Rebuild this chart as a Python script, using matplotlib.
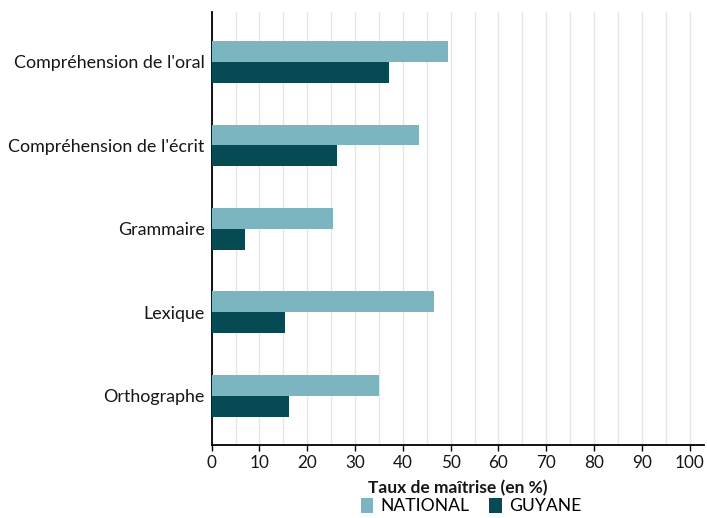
import matplotlib.pyplot as plt
import numpy as np

plt.rcParams['font.family'] = ['Lato', 'DejaVu Sans']

# taux de maîtrise par domaine (%)
domaines = ["Compréhension de l'oral", "Compréhension de l'écrit",
            "Grammaire", "Lexique", "Orthographe"]
national = [49.5, 43.4, 25.4, 46.5, 35.0]
guyane = [37.1, 26.2, 7.0, 15.3, 16.2]

c_nat = '#7ab5c0'
c_guy = '#064b54'

fig = plt.figure(figsize=(7.07, 5.18), dpi=100)
ax = fig.add_axes([0.2994, 0.141, 0.6964, 0.836])

y = np.arange(len(domaines))
h = 0.25
ax.barh(y - h / 2, national, height=h, color=c_nat, label='NATIONAL', zorder=3)
ax.barh(y + h / 2, guyane, height=h, color=c_guy, label='GUYANE', zorder=3)

ax.set_ylim(4.59, -0.6)
ax.set_xlim(0, 103)
ax.set_yticks(y)
ax.set_yticklabels(domaines, fontsize=12.9, color='#161616')
ax.tick_params(axis='y', length=0, pad=5)

ax.set_xticks(range(0, 101, 10))
ax.set_xticks(range(5, 101, 10), minor=True)
ax.tick_params(axis='x', which='major', length=4, width=1, labelsize=12.3,
               labelcolor='#161616', pad=3)
ax.tick_params(axis='x', which='minor', length=0)
ax.grid(axis='x', which='both', color='#e6e6e6', linewidth=1, zorder=0)

for s in ('top', 'right'):
    ax.spines[s].set_visible(False)
ax.spines['left'].set_linewidth(1.3)
ax.spines['bottom'].set_linewidth(1.3)

ax.set_xlabel('Taux de maîtrise (en %)', fontsize=12.5, fontweight='bold',
              color='#161616', labelpad=7)

fig.legend(loc='lower center', bbox_to_anchor=(0.666, -0.023), ncol=2,
           frameon=False, fontsize=12.6, handlelength=0.72, handleheight=0.95,
           handletextpad=0.4, columnspacing=1.15)

fig.savefig('out.png', dpi=100)
